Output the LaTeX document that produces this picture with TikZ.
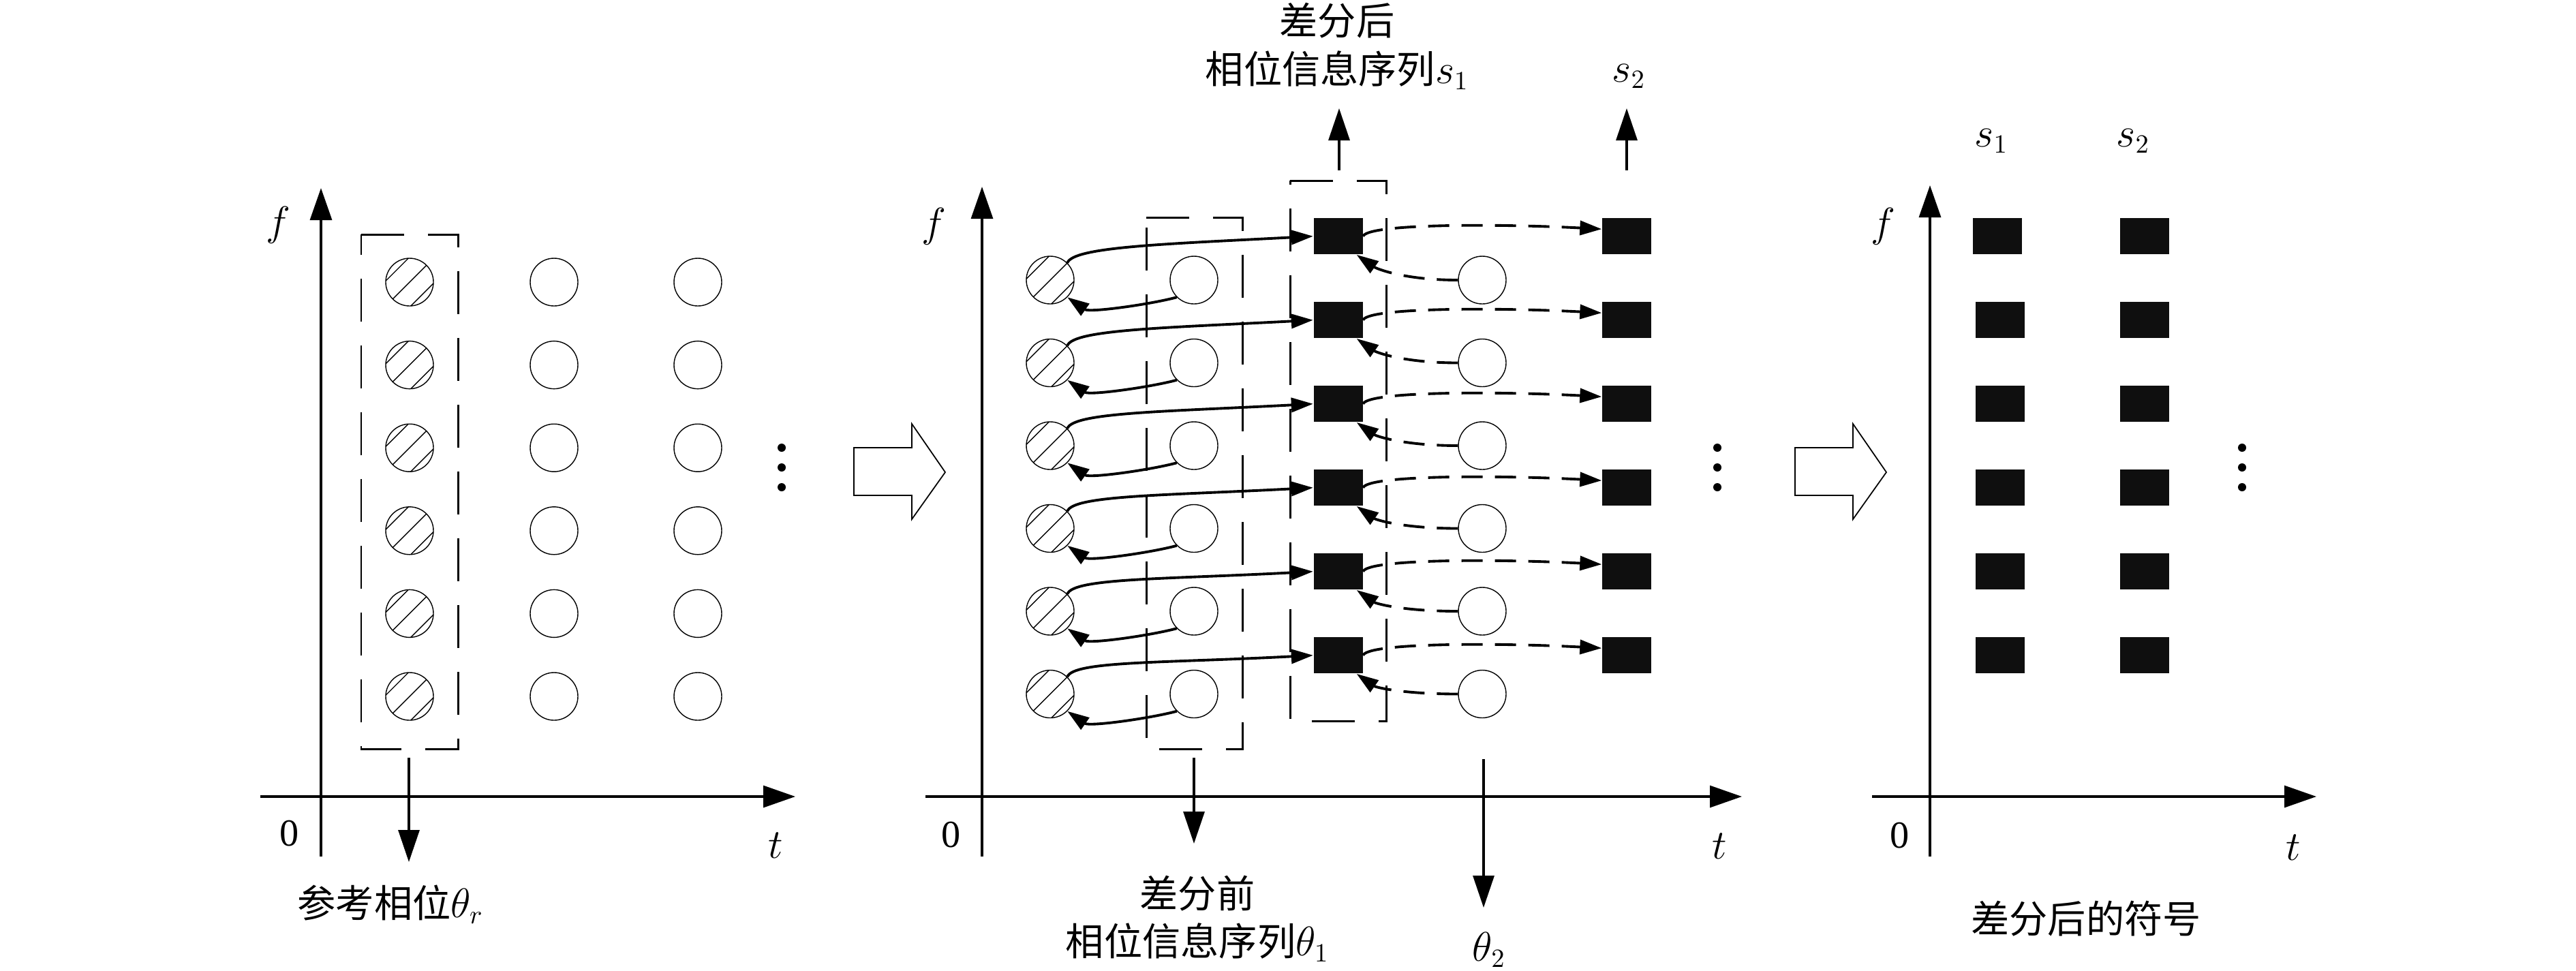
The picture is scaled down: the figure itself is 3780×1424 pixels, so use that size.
\documentclass[tikz,border=0pt]{standalone}
\usepackage{fontspec}
\setmainfont{Liberation Serif}
\newfontfamily\cjk{Noto Sans CJK SC}
\usetikzlibrary{arrows.meta,calc}

\begin{document}
\begin{tikzpicture}[x=0.1mm,y=-0.1mm,
    font=\fontsize{16}{20}\selectfont,
    axis/.style={line width=0.9pt,-{Triangle[length=4.7mm,width=3.2mm]}},
    bigarrow/.style={line width=0.9pt,-{Triangle[length=4.7mm,width=3.1mm]}},
    link/.style={line width=1.1pt,-{Triangle[length=3.2mm,width=2.1mm]}},
    dlink/.style={link,dash pattern=on 3.1mm off 1.8mm},
    dashbox/.style={line width=0.85pt,dash pattern=on 6.3mm off 3.5mm},
    vdot/.style={circle,fill,inner sep=0pt,minimum size=1.2mm},
    slot/.style={circle,draw,line width=0.4pt,inner sep=0pt,minimum size=7mm},
    hatched/.style={slot,path picture={
        \foreach \d in {-1,0,1}
          \draw[line width=0.4pt] ($(path picture bounding box.center)+(135:{\d*2.6mm})+(-5mm,-5mm)$) -- ++(10mm,10mm);}},
    blk/.style={rectangle,fill=black!94,inner sep=0pt,minimum width=7.2mm,minimum height=5.3mm},
    hollow/.style={line width=0.5pt}]
  \useasboundingbox (0,0) rectangle (3780,1424);

  % panel 1: reference phase
  \draw[axis] (382,1169) -- (1167,1169);
  \draw[axis] (471,1257) -- (471,276);
  \node at (408,330) {$f$};
  \node at (425,1223) {0};
  \node at (1138,1241) {$t$};
  \foreach \i in {1,...,6} {
    \node[hatched] (r\i) at (601,{414+121.6*(\i-1)}) {};
    \node[slot] (u\i) at (813,{414+121.6*(\i-1)}) {};
    \node[slot] (v\i) at (1024,{414+121.6*(\i-1)}) {};
  }
  \draw[dashbox] (530,344) -- (672,344) -- (672,1099) -- (530,1099) -- cycle;
  \coordinate (refo) at (600,1112);
  \coordinate (reft) at (600,1265);
  \draw[bigarrow] (refo) -- (reft);
  \node (reflab) at (573,1327) {{\cjk 参考相位}$\theta_r$};
  \foreach \y in {657,686,715} \node[vdot] at (1147,\y) {};

  % hollow arrows between panels
  \foreach \s in {0,1381}
    \draw[hollow,shift={(\s,0)}] (1253,657) -- (1338,657) -- (1338,622) -- (1387,693)
      -- (1338,762) -- (1338,727) -- (1253,727) -- cycle;

  % panel 2: differential
  \draw[axis] (1358,1169) -- (2556,1169);
  \draw[axis] (1441,1257) -- (1441,274);
  \node at (1370,332) {$f$};
  \node at (1396,1225) {0};
  \node at (2523,1242) {$t$};
  \foreach \i in {1,...,6} {
    \node[hatched] (h\i) at (1541,{411+121.5*(\i-1)}) {};
    \node[slot] (o\i) at (1752,{411+121.5*(\i-1)}) {};
    \node[slot] (q\i) at (2175,{411+121.5*(\i-1)}) {};
    \node[blk] (a\i) at (1963.5,{346.7+123*(\i-1)}) {};
    \node[blk] (b\i) at (2387,{346.7+123*(\i-1)}) {};
  }
  \draw[dashbox] (1682,319) -- (1823,319) -- (1823,1099) -- (1682,1099) -- cycle;
  \draw[dashbox] (1893,265) -- (2034,265) -- (2034,1058) -- (1893,1058) -- cycle;
  \foreach \i in {1,...,6} {
    \draw[link] (h\i.45) .. controls +(70:2.5mm) and +(183:22mm) .. (a\i.west);
    \draw[link] (o\i.225) .. controls +(195:4mm) and +(-35:4mm) .. (h\i.-45);
    \draw[dlink] (a\i.east) .. controls +(70:2mm) and +(177:15mm) .. (b\i.164);
    \draw[dlink] (q\i.west) .. controls +(180:8mm) and +(-35:3.5mm) .. (a\i.-45);
  }
  \coordinate (s1o) at (1965,250);
  \coordinate (s1t) at (1965,159);
  \draw[bigarrow] (s1o) -- (s1t);
  \node[align=center] (s1lab) at (1962,68) {{\cjk 差分后}\\{\cjk 相位信息序列}$s_1$};
  \coordinate (s2o) at (2387,250);
  \coordinate (s2t) at (2387,159);
  \draw[bigarrow] (s2o) -- (s2t);
  \node (s2lab) at (2390,112) {$s_2$};
  \coordinate (t1o) at (1752,1112);
  \coordinate (t1t) at (1752,1238);
  \draw[bigarrow] (t1o) -- (t1t);
  \node[align=center] (t1lab) at (1757,1348) {{\cjk 差分前}\\{\cjk 相位信息序列}$\theta_1$};
  \coordinate (t2o) at (2177,1114);
  \coordinate (t2t) at (2177,1332);
  \draw[bigarrow] (t2o) -- (t2t);
  \node (t2lab) at (2185,1394) {$\theta_2$};
  \foreach \y in {657,686,715} \node[vdot] at (2520,\y) {};

  % panel 3: symbols after differential
  \draw[axis] (2747,1169) -- (3399,1169);
  \draw[axis] (2832,1257) -- (2832,272);
  \node at (2763,332) {$f$};
  \node at (2788,1226) {0};
  \node at (3365,1244) {$t$};
  \foreach \i in {1,...,6} {
    \node[blk] (c\i) at ({\i==1 ? 2931 : 2935},{346.7+123*(\i-1)}) {};
    \node[blk] (d\i) at (3146.5,{346.7+123*(\i-1)}) {};
  }
  \node (c0) at (2922,207) {$s_1$};
  \node (d0) at (3130,207) {$s_2$};
  \foreach \y in {657,686,715} \node[vdot] at (3290,\y) {};
  \node (symlab) at (3061,1348) {\cjk 差分后的符号};
\end{tikzpicture}
\end{document}
